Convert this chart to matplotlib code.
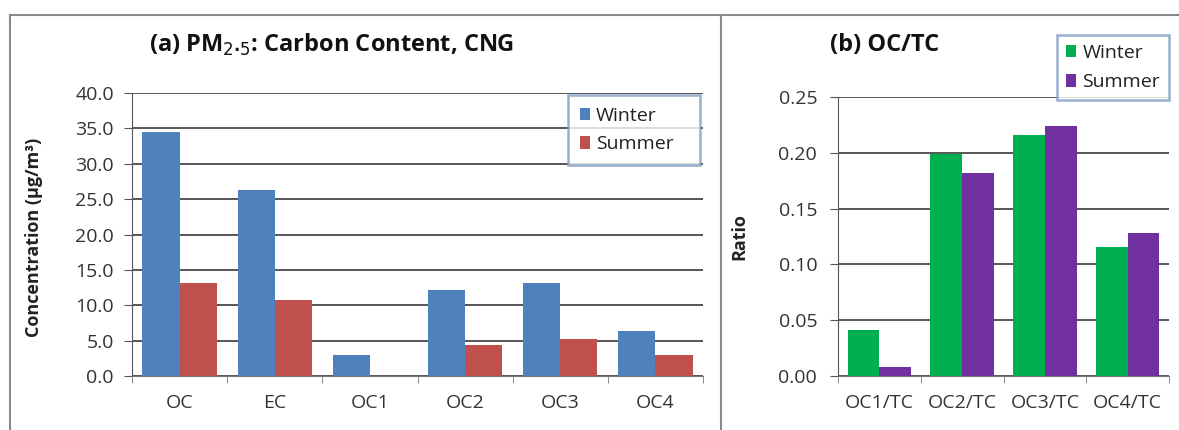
import matplotlib
matplotlib.use("Agg")
import matplotlib.pyplot as plt
import numpy as np
from matplotlib.lines import Line2D

plt.rcParams['font.family'] = ['Open Sans', 'DejaVu Sans']

# Data
cats_a = ["OC", "EC", "OC1", "OC2", "OC3", "OC4"]
winter_a = [34.5, 26.3, 3.0, 12.2, 13.1, 6.3]
summer_a = [13.1, 10.8, 0.0, 4.4, 5.3, 3.0]
yticks_a = [0, 5, 10, 15, 20, 25, 30, 35, 40]

cats_b = ["OC1/TC", "OC2/TC", "OC3/TC", "OC4/TC"]
winter_b = [0.041, 0.199, 0.216, 0.116]
summer_b = [0.008, 0.182, 0.224, 0.128]
yticks_b = [0.00, 0.05, 0.10, 0.15, 0.20, 0.25]

W = 1179
H = 430
fig = plt.figure(figsize=(W / 100, H / 100), dpi=100)
fig.patch.set_facecolor("white")

def fx(px):
    return px / W

def fy(py):
    return 1 - py / H

# frame lines
frame_col = "#8a8a8a"
fig.add_artist(Line2D([fx(10), 1.0], [fy(15), fy(15)], color=frame_col, lw=1.5))
fig.add_artist(Line2D([fx(10), fx(10)], [fy(15), 0], color=frame_col, lw=1.5))
fig.add_artist(Line2D([fx(721), fx(721)], [fy(15), 0], color=frame_col, lw=1.5))

grid_col = "#3a3a3a"
tick_col = "#333333"
TICK_FS = 14


def style_axes(ax):
    for s in ["top", "right"]:
        ax.spines[s].set_visible(False)
    ax.spines["left"].set_color("#555555")
    ax.spines["bottom"].set_color("#777777")
    ax.yaxis.grid(True, color=grid_col, lw=1.2)
    ax.set_axisbelow(True)
    ax.tick_params(axis="y", direction="out", length=6, color="#555555",
                   labelsize=TICK_FS, labelcolor=tick_col, pad=7)
    ax.tick_params(axis="x", which="major", length=0, labelsize=TICK_FS,
                   labelcolor=tick_col, pad=13)
    ax.tick_params(axis="x", which="minor", direction="out", length=5,
                   color="#777777")


# Panel (a)
ax1 = fig.add_axes([fx(132), fy(376), fx(703) - fx(132), fy(93) - fy(376)])
x = np.arange(len(cats_a))
bw = 0.39
ax1.bar(x - bw / 2, winter_a, bw, color="#4F81BD", label="Winter")
ax1.bar(x + bw / 2, summer_a, bw, color="#C0504D", label="Summer")
ax1.set_xlim(-0.5, len(cats_a) - 0.5)
ax1.set_ylim(0, 40)
ax1.set_yticks(yticks_a)
ax1.set_yticklabels([f"{v:.1f}" for v in yticks_a])
ax1.set_xticks(x)
ax1.set_xticklabels(cats_a)
ax1.set_xticks(np.arange(-0.5, len(cats_a)), minor=True)
style_axes(ax1)
ax1.set_ylabel("Concentration (µg/m³)", fontsize=13, fontweight="bold",
               color="#222222")
ax1.yaxis.set_label_coords((43 - 132) / 571, 0.49)
h1, l1 = ax1.get_legend_handles_labels()
leg1 = fig.legend(handles=h1, labels=l1,
                  loc="upper left",
                  bbox_to_anchor=(fx(568), fy(165), fx(700) - fx(568), fy(95) - fy(165)),
                  mode="expand", fontsize=14,
                  frameon=True, fancybox=False, handlelength=0.55, handleheight=0.6,
                  handletextpad=0.3, borderpad=0.6, labelspacing=0.55,
                  borderaxespad=0)
leg1.get_frame().set_edgecolor("#7F9DBF")
leg1.get_frame().set_linewidth(1.8)
for t in leg1.get_texts():
    t.set_color("#222222")
fig.text(fx(332), fy(45), "(a) PM$_{2\\mathbf{\\cdot}5}$: Carbon Content, CNG",
         ha="center", va="center", fontsize=17, fontweight="bold", color="#111111")

# Panel (b)
ax2 = fig.add_axes([fx(838), fy(376), fx(1169) - fx(838), fy(97) - fy(376)])
x2 = np.arange(len(cats_b))
bw2 = 0.385
ax2.bar(x2 - bw2 / 2, winter_b, bw2, color="#00B050", label="Winter")
ax2.bar(x2 + bw2 / 2, summer_b, bw2, color="#7030A0", label="Summer")
ax2.set_xlim(-0.5, len(cats_b) - 0.5)
ax2.set_ylim(0, 0.25)
ax2.set_yticks(yticks_b)
ax2.set_yticklabels([f"{v:.2f}" for v in yticks_b])
ax2.set_xticks(x2)
ax2.set_xticklabels(cats_b)
ax2.set_xticks(np.arange(-0.5, len(cats_b)), minor=True)
style_axes(ax2)
ax2.tick_params(axis="y", pad=9)
ax2.set_ylabel("Ratio", fontsize=13, fontweight="bold", color="#222222")
ax2.yaxis.set_label_coords((748 - 838) / 331, 0.5)
h2, l2 = ax2.get_legend_handles_labels()
leg2 = fig.legend(handles=h2, labels=l2,
                  loc="upper left", bbox_to_anchor=(fx(1057), fy(35)), fontsize=14,
                  frameon=True, fancybox=False, handlelength=0.55, handleheight=0.6,
                  handletextpad=0.3, borderpad=0.45, labelspacing=0.6,
                  borderaxespad=0)
leg2.get_frame().set_edgecolor("#7F9DBF")
leg2.get_frame().set_linewidth(1.8)
for t in leg2.get_texts():
    t.set_color("#222222")
fig.text(fx(885), fy(45), "(b) OC/TC", ha="center", va="center", fontsize=17,
         fontweight="bold", color="#111111")

fig.savefig("out.png", dpi=100, facecolor="white")
